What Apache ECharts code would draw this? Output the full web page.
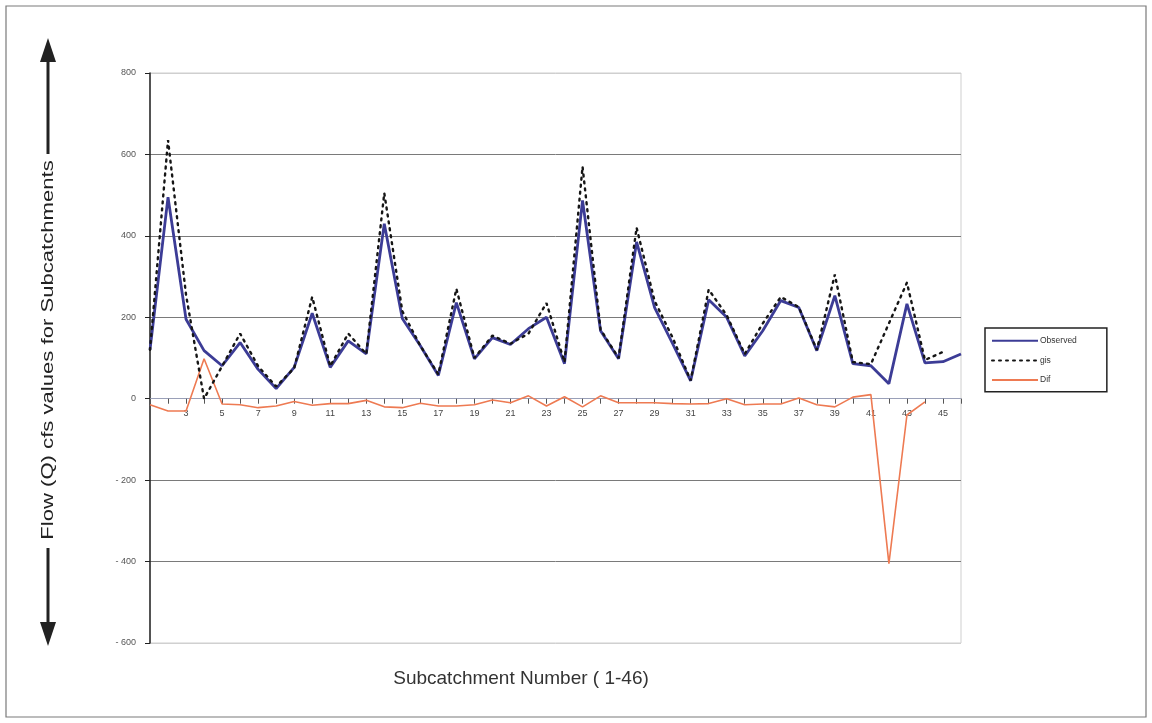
<!DOCTYPE html>
<html>
<head>
<meta charset="utf-8">
<title>Flow (Q) cfs values for Subcatchments</title>
<script src="https://cdn.jsdelivr.net/npm/echarts@6/dist/echarts.min.js"></script>
<style>
  html, body { margin: 0; padding: 0; background: #ffffff; }
  #chart { width: 1152px; height: 723px; }
</style>
</head>
<body>
<div id="chart"></div>
<script>
// Subcatchment numbers 1..46
const subcatchments = ['1','2','3','4','5','6','7','8','9','10','11','12','13','14','15','16','17','18','19','20','21','22','23','24','25','26','27','28','29','30','31','32','33','34','35','36','37','38','39','40','41','42','43','44','45','46'];

// Observed flow (cfs)
const observed = [120, 495, 195, 118, 81, 138, 72, 25, 77, 210, 77, 142, 110, 430, 197, 130, 57, 236, 98, 150, 133, 172, 200, 86, 487, 167, 98, 385, 224, 135, 44, 243, 200, 105, 167, 241, 224, 118, 253, 86, 81, 37, 233, 88, 91, 110];

// GIS-derived flow (cfs)
const gis = [120, 635, 255, 0, 80, 160, 80, 30, 75, 250, 80, 160, 110, 505, 215, 130, 60, 270, 100, 155, 135, 160, 235, 90, 570, 170, 100, 420, 240, 150, 45, 268, 205, 110, 185, 250, 225, 120, 305, 90, 85, 185, 285, 95, 115, null];

// Difference series (cfs)
const dif = [-15, -30, -30, 98, -13, -15, -22, -18, -7, -16, -12, -12, -4, -20, -22, -11, -18, -18, -15, -3, -10, 7, -18, 5, -20, 7, -10, -10, -10, -12, -13, -12, 0, -15, -13, -13, 2, -15, -20, 4, 10, -405, -40, -8, null, null];

// Value axis ticks
const yMin = -600, yMax = 800, yStep = 200;

const seriesNames = ['Observed', 'gis', 'Dif'];
const seriesColors = ['#3c3c96', '#151515', '#ee7a52'];

const chart = echarts.init(document.getElementById('chart'));

const axisFont = 'Liberation Sans, Arial, sans-serif';

// plot box
const gridLeft = 150, gridRight = 191, gridTop = 73, gridBottom = 80;
const plotHeight = 723 - gridTop - gridBottom;
// the category axis sits on the zero line of the value axis
const zeroOffset = -plotHeight * (0 - yMin) / (yMax - yMin);

chart.setOption({
  animation: false,
  backgroundColor: '#ffffff',
  title: {
    text: 'Subcatchment Number ( 1-46)',
    left: 516,
    top: 664,
    textAlign: 'center',
    textStyle: { fontFamily: axisFont, fontSize: 19, fontWeight: 'normal', color: '#333333' }
  },
  grid: {
    left: gridLeft, right: gridRight, top: gridTop, bottom: gridBottom,
    show: true, borderColor: '#cfcfcf', borderWidth: 1, backgroundColor: 'transparent'
  },
  legend: {
    orient: 'vertical',
    left: 985,
    top: 328,
    padding: [8, 30, 7, 6],
    itemGap: 10,
    itemWidth: 46,
    itemHeight: 12,
    borderColor: '#222222',
    borderWidth: 1.5,
    data: seriesNames,
    itemStyle: { opacity: 0 },
    textStyle: { fontFamily: axisFont, fontSize: 8.5, color: '#333333', padding: [0, 0, 0, -3] }
  },
  xAxis: {
    type: 'category',
    data: subcatchments,
    boundaryGap: false,
    position: 'bottom',
    offset: zeroOffset,
    axisLine: { onZero: false, lineStyle: { color: '#9aa0b8', width: 1 } },
    axisTick: { show: true, inside: false, length: 5, interval: 0, lineStyle: { color: '#555555' } },
    axisLabel: {
      interval: (idx) => idx > 0 && idx % 2 === 0,
      fontFamily: axisFont, fontSize: 9, color: '#444444', margin: 10
    },
    splitLine: { show: false }
  },
  yAxis: {
    type: 'value',
    min: yMin, max: yMax, interval: yStep,
    axisLine: { show: true, lineStyle: { color: '#222222', width: 1.5 } },
    axisTick: { show: true, inside: false, length: 5, lineStyle: { color: '#222222' } },
    axisLabel: {
      fontFamily: axisFont, fontSize: 9, color: '#555555', margin: 14,
      formatter: (v) => (v < 0 ? '- ' + Math.abs(v) : String(v))
    },
    splitLine: {
      show: true,
      lineStyle: { color: ['#d0d0d0', '#7a7a7a', '#7a7a7a', 'transparent', '#7a7a7a', '#7a7a7a', '#7a7a7a', '#cfcfcf'], width: 1 }
    }
  },
  series: [
    {
      name: seriesNames[0], type: 'line', data: observed, z: 4,
      symbol: 'none', color: seriesColors[0],
      lineStyle: { color: seriesColors[0], width: 2.8 }
    },
    {
      name: seriesNames[1], type: 'line', data: gis, z: 5,
      symbol: 'none', color: seriesColors[1],
      lineStyle: { color: seriesColors[1], width: 2.4, type: [2, 5], cap: 'round' }
    },
    {
      name: seriesNames[2], type: 'line', data: dif, z: 3,
      symbol: 'none', color: seriesColors[2],
      lineStyle: { color: seriesColors[2], width: 1.6 }
    }
  ],
  graphic: [
    // outer frame
    { type: 'rect', shape: { x: 6, y: 6, width: 1140, height: 711 }, style: { fill: 'none', stroke: '#7a7a7a', lineWidth: 1.2 }, silent: true },
    // value-axis title, set in a condensed face
    {
      type: 'text', x: 48, y: 350, rotation: Math.PI / 2, scaleX: 1.3, silent: true,
      style: {
        text: 'Flow (Q) cfs values for Subcatchments',
        font: '17px Liberation Sans, Arial, sans-serif',
        fill: '#222222', align: 'center', verticalAlign: 'middle'
      }
    },
    // double-headed arrow beside the title
    { type: 'line', shape: { x1: 48, y1: 58, x2: 48, y2: 154 }, style: { stroke: '#222222', lineWidth: 3 }, silent: true },
    { type: 'polygon', shape: { points: [[48, 38], [40, 62], [56, 62]] }, style: { fill: '#222222' }, silent: true },
    { type: 'line', shape: { x1: 48, y1: 548, x2: 48, y2: 625 }, style: { stroke: '#222222', lineWidth: 3 }, silent: true },
    { type: 'polygon', shape: { points: [[48, 646], [40, 622], [56, 622]] }, style: { fill: '#222222' }, silent: true }
  ]
});
</script>
</body>
</html>
